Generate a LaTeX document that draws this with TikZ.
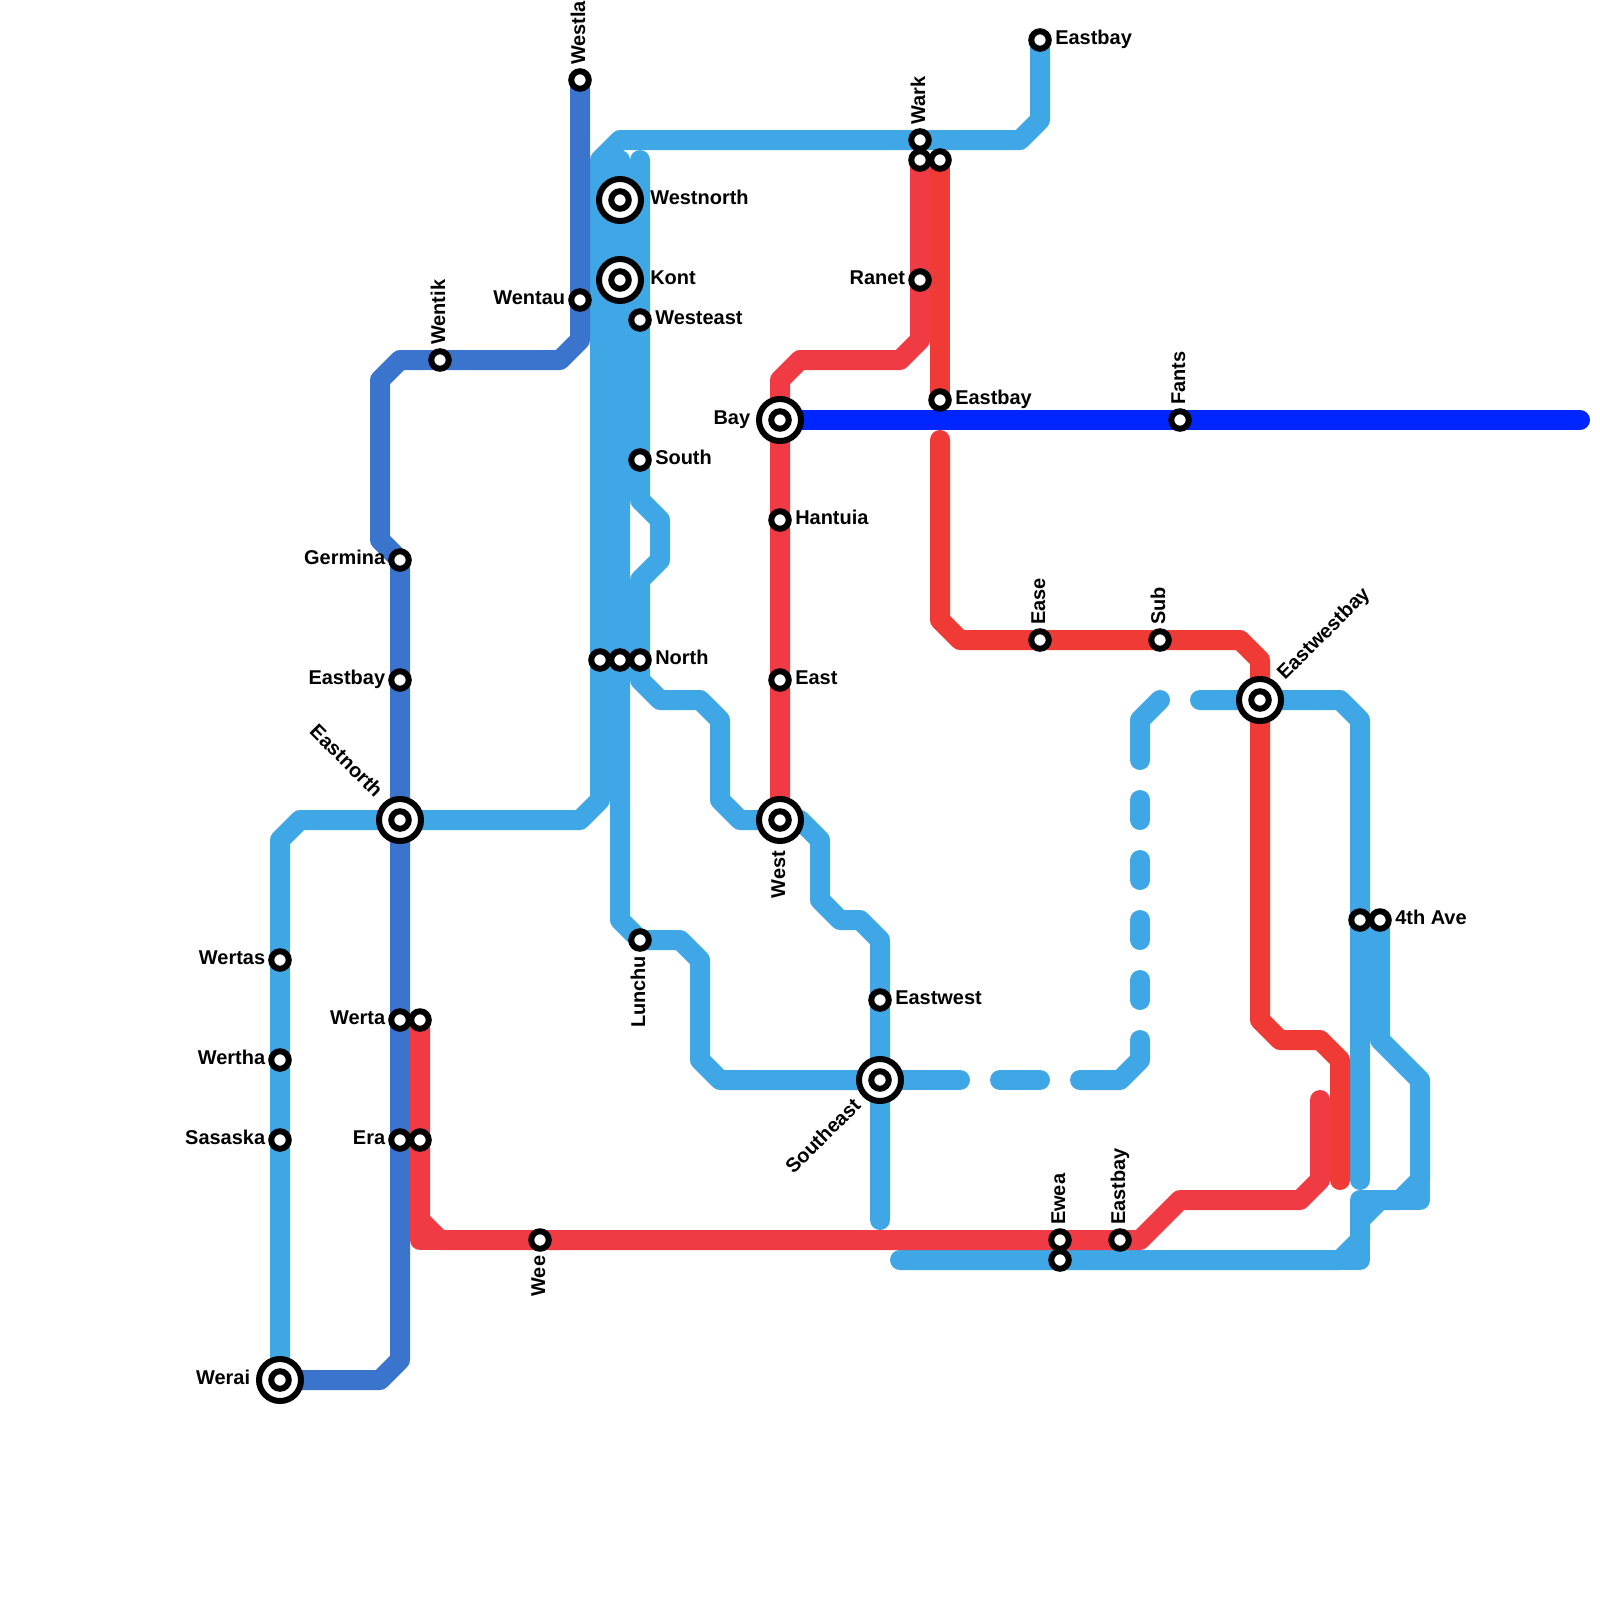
\documentclass[tikz,border=0pt]{standalone}
\usepackage{fontspec}
\setmainfont{Liberation Sans}
\usepackage{tikz}
\definecolor{skyline}{RGB}{63,167,230}
\definecolor{navyline}{RGB}{58,116,204}
\definecolor{redline}{RGB}{240,58,54}
\definecolor{pinkline}{RGB}{240,58,68}
\definecolor{royalline}{RGB}{0,38,255}
\tikzset{
  route/.style={line width=0.5cm,line cap=round,line join=round},
  sky/.style={route,draw=skyline},
  navy/.style={route,draw=navyline},
  rd/.style={route,draw=redline},
  pink/.style={route,draw=pinkline},
  royal/.style={route,draw=royalline},
  stopdot/.style={circle,draw=black,fill=white,line width=0.15cm,minimum size=0.4375cm,inner sep=0pt},
  hubring/.style={circle,draw=black,fill=white,line width=0.15cm,minimum size=1.05cm,inner sep=0pt},
  tag/.style={font=\fontsize{14.2pt}{16pt}\selectfont\bfseries,inner sep=0pt,text=black},
  tagr/.style={tag,anchor=base west,xshift=0.375cm,yshift=-0.1cm},
  tagl/.style={tag,anchor=base east,xshift=-0.365cm,yshift=-0.1cm},
  tagu/.style={tag,anchor=base west,xshift=0.125cm,yshift=0.37cm,rotate=90},
  tagd/.style={tag,anchor=base east,xshift=0.125cm,yshift=-0.39cm,rotate=90},
  hubr/.style={tag,anchor=base west,xshift=0.75cm,yshift=-0.1cm},
  hubl/.style={tag,anchor=base east,xshift=-0.74cm,yshift=-0.1cm},
  hubd/.style={tag,anchor=base east,xshift=0.125cm,yshift=-0.765cm,rotate=90},
}

\begin{document}
\begin{tikzpicture}[x=0.5cm,y=-0.5cm]
\useasboundingbox (0,0) rectangle (80,80);
% sky lines
\draw[sky] (14,69) -- (14,42) -- (15,41) -- (29,41) -- (30,40) -- (30,8) -- (31,7) -- (51,7) -- (52,6) -- (52,2);
\draw[sky] (31,8) -- (31,46) -- (32,47) -- (34,47) -- (35,48) -- (35,53) -- (36,54) -- (44,54);
\draw[sky] (32,8) -- (32,25) -- (33,26) -- (33,28) -- (32,29) -- (32,34) -- (33,35) -- (35,35) -- (36,36) -- (36,40) -- (37,41) -- (40,41) -- (41,42) -- (41,45) -- (42,46) -- (43,46) -- (44,47) -- (44,61);
\draw[sky] (45,63) -- (67,63) -- (68,62) -- (68,61) -- (69,60) -- (70,60) -- (71,59) -- (71,54) -- (69,52) -- (69,46);
\draw[sky] (60,63) -- (68,63) -- (68,60) -- (71,60) -- (71,56);
\draw[sky] (60,35) -- (67,35) -- (68,36) -- (68,59);
% dashed part, piece by piece
\draw[sky] (44,54) -- (48,54);
\draw[sky] (50,54) -- (52,54);
\draw[sky] (54,54) -- (56,54) -- (57,53) -- (57,52);
\foreach \ya in {40,43,46,49} {
  \draw[sky] (57,\ya) -- (57,\ya+1);
}
\draw[sky] (57,38) -- (57,36) -- (58,35);
% navy line
\draw[navy] (29,4) -- (29,17) -- (28,18) -- (20,18) -- (19,19) -- (19,27) -- (20,28) -- (20,68) -- (19,69) -- (14,69);
% red lines
\draw[pink] (46,8) -- (46,17) -- (45,18) -- (40,18) -- (39,19) -- (39,41);
\draw[rd] (47,8) -- (47,20);
\draw[rd] (47,22) -- (47,31) -- (48,32) -- (62,32) -- (63,33) -- (63,51) -- (64,52) -- (66,52) -- (67,53) -- (67,59);
\draw[pink] (21,51) -- (21,61) -- (22,62) -- (57,62) -- (59,60) -- (65,60) -- (66,59) -- (66,55);
\draw[pink] (21,61) -- (21,62) -- (22,62);
% royal line
\draw[royal] (39,21) -- (79,21);
% stations
\node[stopdot] (westla) at (29,4) {};\node[tagu] (westlat) at (westla) {Westla};
\node[stopdot] (wentau) at (29,15) {};\node[tagl] (wentaut) at (wentau) {Wentau};
\node[stopdot] (wentik) at (22,18) {};\node[tagu] (wentikt) at (wentik) {Wentik};
\node[stopdot] (germina) at (20,28) {};\node[tagl] (germinat) at (germina) {Germina};
\node[stopdot] (eastbaya) at (20,34) {};\node[tagl] (eastbayat) at (eastbaya) {Eastbay};
\node[stopdot] (werta) at (20,51) {};\node[tagl] (wertat) at (werta) {Werta};
\node[stopdot] (wertb) at (21,51) {};
\node[stopdot] (era) at (20,57) {};\node[tagl] (erat) at (era) {Era};
\node[stopdot] (erb) at (21,57) {};
\node[stopdot] (wertas) at (14,48) {};\node[tagl] (wertast) at (wertas) {Wertas};
\node[stopdot] (wertha) at (14,53) {};\node[tagl] (werthat) at (wertha) {Wertha};
\node[stopdot] (sasaska) at (14,57) {};\node[tagl] (sasaskat) at (sasaska) {Sasaska};
\node[stopdot] (westeast) at (32,16) {};\node[tagr] (westeastt) at (westeast) {Westeast};
\node[stopdot] (south) at (32,23) {};\node[tagr] (southt) at (south) {South};
\node[stopdot] (northa) at (30,33) {};
\node[stopdot] (northb) at (31,33) {};
\node[stopdot] (north) at (32,33) {};\node[tagr] (northt) at (north) {North};
\node[stopdot] (lunchu) at (32,47) {};\node[tagd] (lunchut) at (lunchu) {Lunchu};
\node[stopdot] (wee) at (27,62) {};\node[tagd] (weet) at (wee) {Wee};
\node[stopdot] (hantuia) at (39,26) {};\node[tagr] (hantuiat) at (hantuia) {Hantuia};
\node[stopdot] (east) at (39,34) {};\node[tagr] (eastt) at (east) {East};
\node[stopdot] (wark) at (46,7) {};\node[tagu] (warkt) at (wark) {Wark};
\node[stopdot] (warkb) at (46,8) {};
\node[stopdot] (warkc) at (47,8) {};
\node[stopdot] (ranet) at (46,14) {};\node[tagl] (ranett) at (ranet) {Ranet};
\node[stopdot] (eastbayb) at (47,20) {};\node[tagr] (eastbaybt) at (eastbayb) {Eastbay};
\node[stopdot] (eastbayc) at (52,2) {};\node[tagr] (eastbayct) at (eastbayc) {Eastbay};
\node[stopdot] (fants) at (59,21) {};\node[tagu] (fantst) at (fants) {Fants};
\node[stopdot] (ease) at (52,32) {};\node[tagu] (easet) at (ease) {Ease};
\node[stopdot] (sub) at (58,32) {};\node[tagu] (subt) at (sub) {Sub};
\node[stopdot] (eastwest) at (44,50) {};\node[tagr] (eastwestt) at (eastwest) {Eastwest};
\node[stopdot] (ewea) at (53,62) {};\node[tagu] (eweat) at (ewea) {Ewea};
\node[stopdot] (eweb) at (53,63) {};
\node[stopdot] (eastbayd) at (56,62) {};\node[tagu] (eastbaydt) at (eastbayd) {Eastbay};
\node[stopdot] (avea) at (68,46) {};
\node[stopdot] (ave) at (69,46) {};\node[tagr] (avet) at (ave) {4th Ave};
% hubs
\node[hubring] (westnorth) at (31,10) {};\node[stopdot] (westnorthc) at (westnorth) {};\node[hubr] (westnortht) at (westnorth) {Westnorth};
\node[hubring] (kont) at (31,14) {};\node[stopdot] (kontc) at (kont) {};\node[hubr] (kontt) at (kont) {Kont};
\node[hubring] (bay) at (39,21) {};\node[stopdot] (bayc) at (bay) {};\node[hubl] (bayt) at (bay) {Bay};
\node[hubring] (west) at (39,41) {};\node[stopdot] (westc) at (west) {};\node[hubd] (westt) at (west) {West};
\node[hubring] (werai) at (14,69) {};\node[stopdot] (weraic) at (werai) {};\node[hubl] (werait) at (werai) {Werai};
\node[hubring] (eastnorth) at (20,41) {};\node[stopdot] (eastnorthc) at (eastnorth) {};
\node[tag,anchor=base east,xshift=-0.63cm,yshift=0.53cm,rotate=-45] (eastnortht) at (eastnorth) {Eastnorth};
\node[hubring] (eastwestbay) at (63,35) {};\node[stopdot] (eastwestbayc) at (eastwestbay) {};
\node[tag,anchor=base west,xshift=0.625cm,yshift=0.475cm,rotate=45] (eastwestbayt) at (eastwestbay) {Eastwestbay};
\node[hubring] (southeast) at (44,54) {};\node[stopdot] (southeastc) at (southeast) {};
\node[tag,anchor=base east,xshift=-0.45cm,yshift=-0.66cm,rotate=45] (southeastt) at (southeast) {Southeast};
\end{tikzpicture}
\end{document}
